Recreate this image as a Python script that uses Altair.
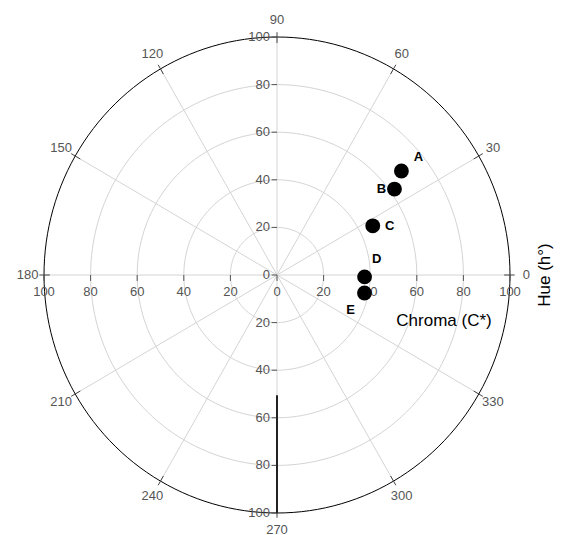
import altair as alt
import pandas as pd

# ---- data ----
labels = ["A", "B", "C", "D", "E"]
chroma = [69, 62, 46, 37.6, 38.3]
hue = [39.3, 35.6, 26.7, 358.8, 348.6]

ring_radii = [20, 40, 60, 80]
outer_radius = [100]
spoke_angles = [0, 30, 60, 90, 120, 150, 180, 210, 240, 270, 300, 330]
axis_values = [-100, -80, -60, -40, -20, 0, 20, 40, 60, 80, 100]
circle_steps = list(range(0, 362, 2))

FONT = "Liberation Sans"
GRID = "#d4d4d4"
LAB = "#555555"

xs = alt.Scale(domain=[-100, 100], nice=False, zero=False)
ys = alt.Scale(domain=[-100, 100], nice=False, zero=False)

def X(f):
    return alt.X(f, type="quantitative", scale=xs, axis=None)

def Y(f):
    return alt.Y(f, type="quantitative", scale=ys, axis=None)

rings_df = pd.DataFrame([(r, a) for r in ring_radii for a in circle_steps], columns=["r", "a"])
outer_df = pd.DataFrame([(r, a) for r in outer_radius for a in circle_steps], columns=["r", "a"])
spokes_df = pd.DataFrame({"a": spoke_angles, "t": [str(a) for a in spoke_angles]})
axis_df = pd.DataFrame({"v": axis_values, "t": [str(abs(v)) for v in axis_values]})
pts_df = pd.DataFrame({"label": labels, "chroma": chroma, "hue": hue})

polar = dict(x="datum.r*cos(datum.a*PI/180)", y="datum.r*sin(datum.a*PI/180)")

rings = alt.Chart(rings_df).transform_calculate(**polar).mark_line(
    color=GRID, strokeWidth=1
).encode(x=X("x"), y=Y("y"), detail="r:N", order="a:Q")

outer = alt.Chart(outer_df).transform_calculate(**polar).mark_line(
    color="#000000", strokeWidth=1
).encode(x=X("x"), y=Y("y"), detail="r:N", order="a:Q")

spokes = alt.Chart(spokes_df).transform_calculate(
    x0="0", y0="0",
    x1="100*cos(datum.a*PI/180)", y1="100*sin(datum.a*PI/180)"
).mark_rule(color=GRID, strokeWidth=1).encode(
    x=X("x0"), y=Y("y0"), x2="x1:Q", y2="y1:Q")

angle_ticks = alt.Chart(spokes_df).transform_calculate(
    x0="97.5*cos(datum.a*PI/180)", y0="97.5*sin(datum.a*PI/180)",
    x1="102*cos(datum.a*PI/180)", y1="102*sin(datum.a*PI/180)"
).mark_rule(color="#444444", strokeWidth=1).encode(
    x=X("x0"), y=Y("y0"), x2="x1:Q", y2="y1:Q")

angle_labels = alt.Chart(spokes_df).transform_calculate(
    x="107*cos(datum.a*PI/180)", y="107*sin(datum.a*PI/180)"
).mark_text(font=FONT, fontSize=13, color=LAB, baseline="middle", align="center").encode(
    x=X("x"), y=Y("y"), text="t:N")

vticks = alt.Chart(axis_df).transform_calculate(x0="-2.3", x1="0").mark_rule(
    color="#555555", strokeWidth=1).encode(x=X("x0"), x2="x1:Q", y=Y("v"))

hticks = alt.Chart(axis_df).transform_calculate(y0="-2.5", y1="0").mark_rule(
    color="#555555", strokeWidth=1).encode(y=Y("y0"), y2="y1:Q", x=X("v"))

vlabels = alt.Chart(axis_df).transform_calculate(x0="0").mark_text(
    font=FONT, fontSize=13, color=LAB, align="right", baseline="middle", dx=-7
).encode(x=X("x0"), y=Y("v"), text="t:N")

hlabels = alt.Chart(axis_df).transform_calculate(y0="0").mark_text(
    font=FONT, fontSize=13, color=LAB, align="center", baseline="top", dy=11
).encode(x=X("v"), y=Y("y0"), text="t:N")

thick = alt.Chart(pd.DataFrame({"y0": [-50.5], "y1": [-100]})).transform_calculate(
    x0="0").mark_rule(color="#222222", strokeWidth=2).encode(
    x=X("x0"), y=Y("y0"), y2="y1:Q")

pts_base = alt.Chart(pts_df).transform_calculate(
    x="datum.chroma*cos(datum.hue*PI/180)", y="datum.chroma*sin(datum.hue*PI/180)")

points = pts_base.mark_circle(size=220, color="#000000", opacity=1).encode(
    x=X("x"), y=Y("y"))

offsets = {"A": (17, -14), "B": (-13, 0), "C": (17, 0), "D": (12, -18), "E": (-14, 17)}
plabels = [
    pts_base.transform_filter(alt.datum.label == k).mark_text(
        font=FONT, fontSize=13, fontWeight="bold", color="#000000",
        dx=dx, dy=dy, align="center", baseline="middle"
    ).encode(x=X("x"), y=Y("y"), text="label:N")
    for k, (dx, dy) in offsets.items()
]

chroma_title = alt.Chart(pd.DataFrame({"t": ["Chroma (C*)"]})).mark_text(
    font=FONT, fontSize=17, color="#000000", align="center", baseline="middle"
).encode(x=alt.value(400), y=alt.value(284), text="t:N")

hue_title = alt.Chart(pd.DataFrame({"t": ["Hue (h°)"]})).mark_text(
    font=FONT, fontSize=17, color="#000000", align="center", baseline="middle", angle=270
).encode(x=alt.value(501), y=alt.value(238), text="t:N")

chart = alt.layer(
    rings, spokes, outer, angle_ticks, vticks, hticks, thick,
    vlabels, hlabels, angle_labels, points, *plabels, chroma_title, hue_title
).properties(
    width=466, height=476,
    padding={"left": 36, "top": 29, "right": 44, "bottom": 22},
    autosize=alt.AutoSizeParams(type="none"),
    background="#ffffff"
).configure_view(stroke=None)

chart.save("out.html", embed_options={"renderer": "svg", "actions": False})
